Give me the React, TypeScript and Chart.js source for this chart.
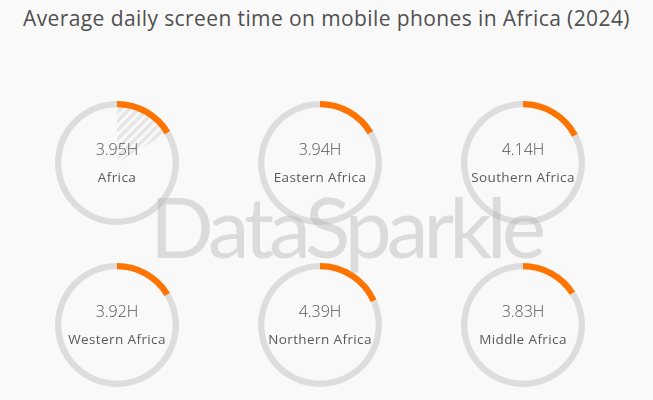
import React, { useEffect, useRef } from "react";
import { Chart, registerables } from "chart.js";

Chart.register(...registerables);

const regions = ["Africa", "Eastern Africa", "Southern Africa", "Western Africa", "Northern Africa", "Middle Africa"];
const hours = [3.95, 3.94, 4.14, 3.92, 4.39, 3.83];
const dayHours = 24;
const unit = "H";
const title = "Average daily screen time on mobile phones in Africa (2024)";
const watermark = "DataSparkle";

const centersX = [117, 320, 523];
const centersY = [162.5, 324.5];
const SIZE = 140;

const hatchPlugin = {
  id: "hatch",
  beforeDatasetsDraw(chart: any, _args: any, opts: any) {
    if (!opts || !opts.on) return;
    const arc: any = chart.getDatasetMeta(0).data[0];
    if (!arc) return;
    const { x, y, startAngle, endAngle, innerRadius } = arc.getProps(["x", "y", "startAngle", "endAngle", "innerRadius"], true);
    const ctx = chart.ctx;
    ctx.save();
    ctx.beginPath();
    ctx.moveTo(x, y);
    ctx.arc(x, y, innerRadius, startAngle, endAngle);
    ctx.closePath();
    ctx.clip();
    ctx.strokeStyle = "#e6e6e6";
    ctx.lineWidth = 3.5;
    const R = innerRadius + 10;
    for (let t = -2 * R; t <= 2 * R; t += 9) {
      ctx.beginPath();
      ctx.moveTo(x + t - R, y + R);
      ctx.lineTo(x + t + R, y - R);
      ctx.stroke();
    }
    ctx.restore();
  },
};

const textPlugin = {
  id: "centerText",
  afterDraw(chart: any, _args: any, opts: any) {
    const ctx = chart.ctx;
    const meta = chart.getDatasetMeta(0);
    const arc: any = meta.data[0];
    const cx = arc.x;
    const cy = arc.y;
    ctx.save();
    ctx.textAlign = "center";
    ctx.textBaseline = "middle";
    ctx.fillStyle = "#555555";
    ctx.font = "300 16px 'Open Sans', Lato, sans-serif";
    ctx.fillText(opts.value, cx, cy - 13);
    ctx.font = "13.5px 'Open Sans', Lato, sans-serif";
    (ctx as any).letterSpacing = "0.4px";
    ctx.fillStyle = "#5a5a5a";
    ctx.fillText(opts.label, cx, cy + 15);
    ctx.restore();
  },
};

function Gauge({ label, value, hatched, left, top }: { label: string; value: number; hatched: boolean; left: number; top: number }) {
  const ref = useRef<HTMLCanvasElement>(null);
  useEffect(() => {
    if (!ref.current) return;
    const chart = new Chart(ref.current, {
      type: "doughnut",
      data: {
        labels: [label, "rest"],
        datasets: [
          {
            data: [value, dayHours - value],
            backgroundColor: ["#ff7400", "#dddddd"],
            borderWidth: 0,
          },
        ],
      },
      options: {
        responsive: false,
        animation: false,
        events: [],
        radius: 62,
        cutout: "89.8%",
        layout: { padding: 0 },
        plugins: {
          legend: { display: false },
          tooltip: { enabled: false },
          hatch: { on: hatched },
          centerText: { value: value.toFixed(2) + unit, label },
        } as any,
      } as any,
      plugins: [hatchPlugin, textPlugin],
    });
    return () => chart.destroy();
  }, [label, value, hatched]);
  return (
    <canvas
      ref={ref}
      width={SIZE}
      height={SIZE}
      style={{ position: "absolute", left, top, width: SIZE, height: SIZE }}
    />
  );
}

export default function App() {
  return (
    <div
      style={{
        position: "absolute",
        left: 0,
        top: 0,
        width: 653,
        height: 400,
        background: "#f9f9f9",
        overflow: "hidden",
        fontFamily: "'Open Sans', Lato, sans-serif",
      }}
    >
      <div
        style={{
          position: "absolute",
          left: 23,
          top: 4,
          fontSize: 21,
          lineHeight: "28px",
          letterSpacing: 0.4,
          color: "#505050",
          whiteSpace: "nowrap",
        }}
      >
        {title}
      </div>
      {regions.map((r, i) => {
        const cx = centersX[i % 3];
        const cy = centersY[Math.floor(i / 3)];
        return (
          <Gauge
            key={r}
            label={r}
            value={hours[i]}
            hatched={i === 0}
            left={cx - SIZE / 2}
            top={cy - SIZE / 2}
          />
        );
      })}
      <div
        style={{
          position: "absolute",
          left: 150,
          top: 176,
          fontSize: 84,
          lineHeight: "100px",
          letterSpacing: -5,
          fontFamily: "Lato, sans-serif",
          color: "rgba(170,170,170,0.38)",
          whiteSpace: "nowrap",
          pointerEvents: "none",
        }}
      >
        {watermark}
      </div>
    </div>
  );
}
